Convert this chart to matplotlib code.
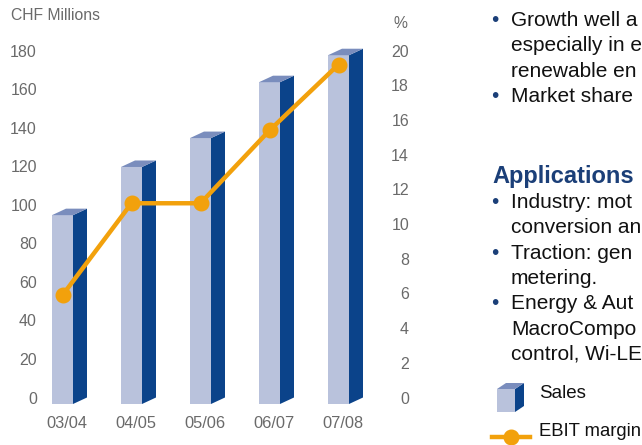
import matplotlib
matplotlib.use("Agg")
import matplotlib.pyplot as plt
from matplotlib.patches import Polygon
from matplotlib.lines import Line2D

plt.rcParams['font.family'] = ['Liberation Sans', 'DejaVu Sans']

# ---------------- data ----------------
periods = ["03/04", "04/05", "05/06", "06/07", "07/08"]
sales = [98, 123, 138, 167, 181]          # CHF millions
ebit_margin = [5.9, 11.2, 11.2, 15.4, 19.2]  # %
left_ticks = [0, 20, 40, 60, 80, 100, 120, 140, 160, 180]
right_ticks = [0, 2, 4, 6, 8, 10, 12, 14, 16, 18, 20]

# visible (cropped) slide text on the right
bullets_top = ["Growth well a",
               "especially in e",
               "renewable en"]
bullets_top2 = ["Market share"]
app_title = "Applications"
app_bullets = [["Industry: mot",
                "conversion an"],
               ["Traction: gen",
                "metering."],
               ["Energy & Aut",
                "MacroCompo",
                "control, Wi-LE"]]

# ---------------- styling ----------------
W, H = 642, 445
FRONT = "#b9c2dc"
SIDE = "#0b438a"
TOP = "#7a8dbd"
ORANGE = "#f2a10c"
GREY = "#6a6a6a"
BLUE = "#1b3f78"

fig = plt.figure(figsize=(W / 100, H / 100), dpi=100)

px_per_unit_y = 1.927
ymin, ymax = -4, 190
ax_left, ax_right = 42, 385
ax_bottom = (H - 397.5) - (0 - ymin) * px_per_unit_y
ax_height = (ymax - ymin) * px_per_unit_y
ax = fig.add_axes([ax_left / W, ax_bottom / H, (ax_right - ax_left) / W, ax_height / H])

px_per_cat = 69.0
x0_px = 67.0
xmin = (ax_left - x0_px) / px_per_cat
xmax = (ax_right - x0_px) / px_per_cat
ax.set_xlim(xmin, xmax)
ax.set_ylim(ymin, ymax)

dxu = 14 / px_per_cat
dyu = 6.5 / px_per_unit_y
bw = 21 / px_per_cat
off = -4.5 / px_per_cat

xs = [i + off for i in range(len(periods))]
ax.bar(xs, sales, width=bw, bottom=-dyu, color=FRONT, edgecolor='none', zorder=2)
for xc, v in zip(xs, sales):
    xf0, xf1 = xc - bw / 2, xc + bw / 2
    side = Polygon([(xf1, -dyu), (xf1 + dxu, 0), (xf1 + dxu, v), (xf1, v - dyu)],
                   closed=True, facecolor=SIDE, edgecolor='none', zorder=2)
    top = Polygon([(xf0, v - dyu), (xf1, v - dyu), (xf1 + dxu, v), (xf0 + dxu, v)],
                  closed=True, facecolor=TOP, edgecolor='none', zorder=2)
    ax.add_patch(side)
    ax.add_patch(top)

for s in ax.spines.values():
    s.set_visible(False)
ax.set_yticks(left_ticks)
ax.set_yticklabels([str(t) for t in left_ticks])
ax.set_xticks(range(len(periods)))
ax.set_xticklabels(periods)
ax.tick_params(axis='y', length=0, pad=3.6, labelsize=11.5, labelcolor=GREY)
ax.tick_params(axis='x', length=0, pad=8, labelsize=11.8, labelcolor=GREY)

ax2 = ax.twinx()
ax2.set_ylim(ymin / 9, ymax / 9)
ax2.set_yticks(right_ticks)
ax2.set_yticklabels([str(t) for t in right_ticks])
ax2.tick_params(axis='y', length=0, pad=17.3, labelsize=11.5, labelcolor=GREY)
for lbl in ax2.get_yticklabels():
    lbl.set_horizontalalignment('right')
for s in ax2.spines.values():
    s.set_visible(False)
ax2.plot(xs, ebit_margin, color=ORANGE, lw=3.2, marker='o', markersize=10.5,
         markerfacecolor=ORANGE, markeredgecolor=ORANGE, zorder=5)

# axis titles
fig.text(11 / W, 1 - 15.5 / H, "CHF Millions", fontsize=11.3, color=GREY, ha='left', va='center')
fig.text(407 / W, 1 - 23 / H, "%", fontsize=11.3, color=GREY, ha='right', va='center')

# ---------------- right-hand text ----------------
FS = 15
def line(y_base, s, bullet=False, **kw):
    if bullet:
        fig.text(495 / W, 1 - y_base / H, "\u2022", fontsize=FS, color=BLUE,
                 ha='center', va='baseline')
    fig.text(511 / W, 1 - y_base / H, s, fontsize=FS, color="#111111",
             ha='left', va='baseline', **kw)

step = 25.3
y = 26
for k, s in enumerate(bullets_top):
    line(y, s, bullet=(k == 0)); y += step
for k, s in enumerate(bullets_top2):
    line(y, s, bullet=(k == 0)); y += step

fig.text(492 / W, 1 - 182.7 / H, app_title, fontsize=17, fontweight='bold', color=BLUE,
         ha='left', va='baseline')
y = 208
for group in app_bullets:
    for k, s in enumerate(group):
        line(y, s, bullet=(k == 0)); y += step

# ---------------- legend ----------------
def fp(x, yy):
    return (x / W, 1 - yy / H)
fig.add_artist(Polygon([fp(497, 389), fp(515, 389), fp(515, 412), fp(497, 412)],
                       closed=True, transform=fig.transFigure, facecolor=FRONT, edgecolor='none'))
fig.add_artist(Polygon([fp(515, 389), fp(524, 383), fp(524, 406), fp(515, 412)],
                       closed=True, transform=fig.transFigure, facecolor=SIDE, edgecolor='none'))
fig.add_artist(Polygon([fp(497, 389), fp(506, 383), fp(524, 383), fp(515, 389)],
                       closed=True, transform=fig.transFigure, facecolor=TOP, edgecolor='none'))
fig.text(539 / W, 1 - 393 / H, "Sales", fontsize=13.5, color="#111111", ha='left', va='center')

fig.add_artist(Line2D([492 / W, 530 / W], [1 - 437 / H, 1 - 437 / H], transform=fig.transFigure,
                      color=ORANGE, lw=3.2))
fig.add_artist(Line2D([511 / W], [1 - 437 / H], transform=fig.transFigure, marker='o',
                      markersize=10.5, color=ORANGE, lw=0))
fig.text(539 / W, 1 - 432 / H, "EBIT margin", fontsize=13.3, color="#111111", ha='left', va='center')

fig.savefig("out.png", dpi=100)
